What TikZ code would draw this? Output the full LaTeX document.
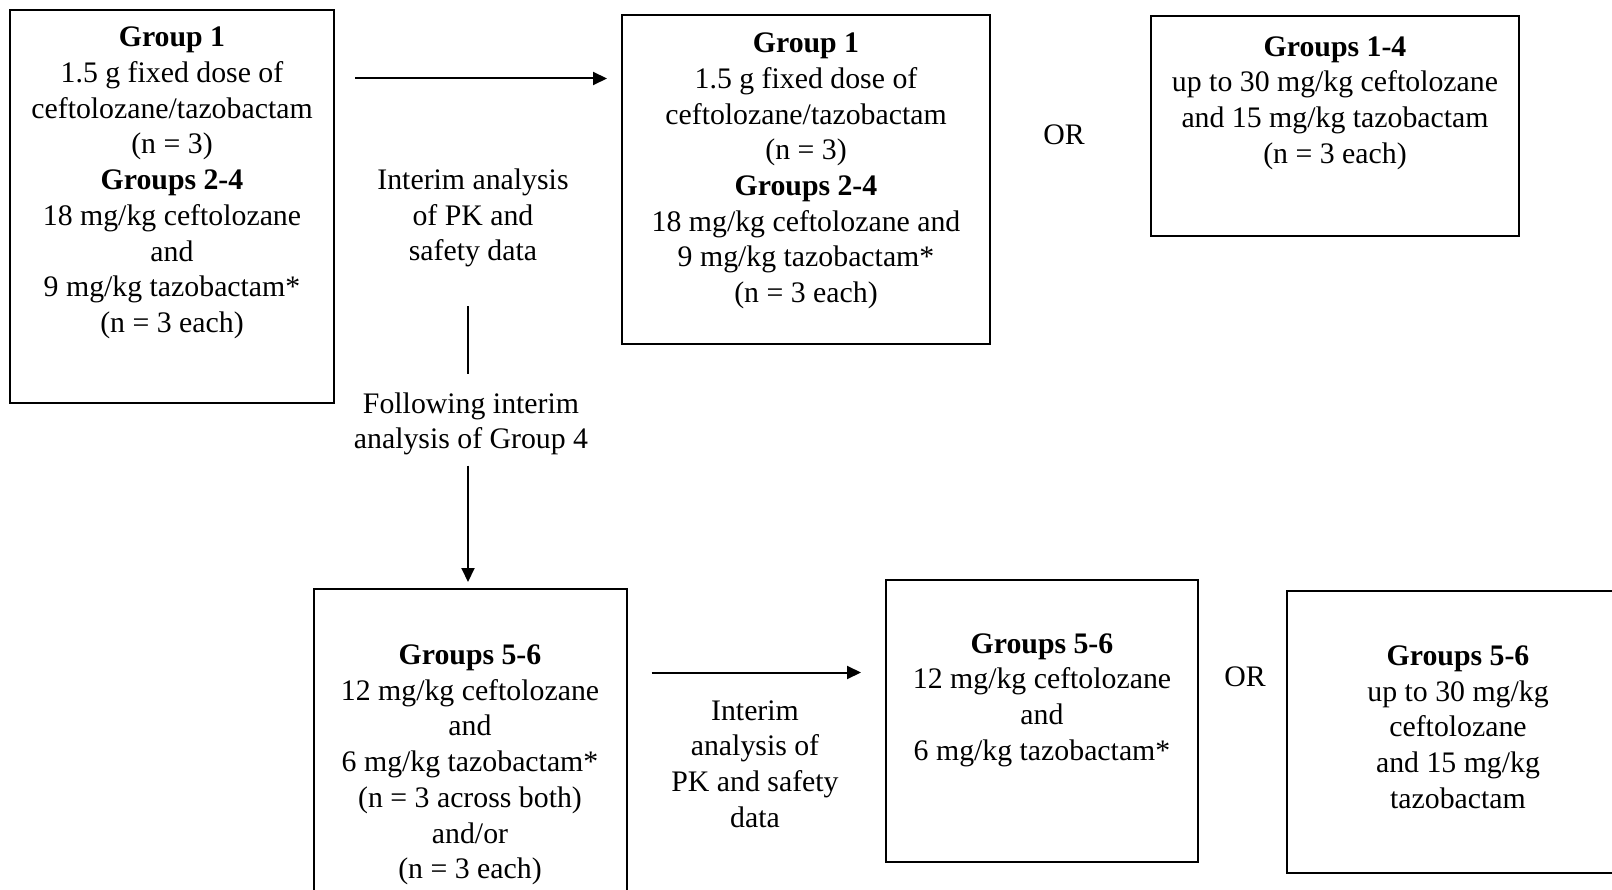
\documentclass[tikz,border=0pt]{standalone}
\usepackage{fontspec}
\setmainfont{Liberation Serif}
\usetikzlibrary{arrows.meta,positioning}

\begin{document}
\begin{tikzpicture}[
    x=1pt, y=-1pt,
    font=\fontsize{29.8}{35.7}\selectfont,
    dosebox/.style={rectangle, draw, line width=2pt, inner sep=0pt},
    dosetext/.style={align=center, inner sep=0pt},
    note/.style={align=center, inner sep=0pt},
    flow/.style={-{Triangle[length=14pt, width=13pt]}, line width=2pt},
    link/.style={line width=1.8pt}
]
    \useasboundingbox (0,0) rectangle (1612,890);
    \clip (0,0) rectangle (1612,890);

    \node[dosebox, minimum width=324pt, minimum height=393pt] (start) at (172,206.5) {};
    \node[dosetext] (starttext) at (172,183) {\textbf{Group 1}\\1.5 g fixed dose of\\ceftolozane/tazobactam\\(n = 3)\\\textbf{Groups 2-4}\\18 mg/kg ceftolozane\\and\\9 mg/kg tazobactam*\\(n = 3 each)};

    \node[dosebox, minimum width=368pt, minimum height=329pt] (keep) at (806,180) {};
    \node[dosetext] (keeptext) at (806,171) {\textbf{Group 1}\\1.5 g fixed dose of\\ceftolozane/tazobactam\\(n = 3)\\\textbf{Groups 2-4}\\18 mg/kg ceftolozane and\\9 mg/kg tazobactam*\\(n = 3 each)};

    \node[note] (ortop) at (1064,135) {OR};

    \node[dosebox, minimum width=368pt, minimum height=220pt] (raise) at (1335,126.5) {};
    \node[dosetext] (raisetext) at (1335,103) {\textbf{Groups 1-4}\\up to 30 mg/kg ceftolozane\\and 15 mg/kg tazobactam\\(n = 3 each)};

    \node[note] (pktop) at (473,218) {Interim analysis\\of PK and\\safety data};
    \node[note] (follow) at (471,424) {Following interim\\analysis of Group 4};

    \node[dosebox, minimum width=313pt, minimum height=344pt] (young) at (470,761) {};
    \node[dosetext] (youngtext) at (470,765) {\textbf{Groups 5-6}\\12 mg/kg ceftolozane\\and\\6 mg/kg tazobactam*\\(n = 3 across both)\\and/or\\(n = 3 each)};

    \node[note] (pklow) at (755,764) {Interim\\analysis of\\PK and safety\\data};

    \node[dosebox, minimum width=312pt, minimum height=282pt] (youngkeep) at (1042,721) {};
    \node[dosetext] (youngkeeptext) at (1042,700) {\textbf{Groups 5-6}\\12 mg/kg ceftolozane\\and\\6 mg/kg tazobactam*};

    \node[note] (orlow) at (1245,677) {OR};

    \node[dosebox, minimum width=343pt, minimum height=282pt] (youngraise) at (1458.5,732) {};
    \node[dosetext] (youngraisetext) at (1458,727) {\textbf{Groups 5-6}\\up to 30 mg/kg\\ceftolozane\\and 15 mg/kg\\tazobactam};

    \coordinate (topflow) at (0,78.5);
    \coordinate (sideline) at (468,0);
    \coordinate (lowflow) at (0,672.5);

    \draw[flow, shorten <=20pt, shorten >=14pt] (start.east |- topflow) -- (keep.west |- topflow);
    \draw[link, shorten <=39pt, shorten >=18pt] (pktop.south -| sideline) -- (follow.north -| sideline);
    \draw[flow, shorten <=10pt, shorten >=6pt] (follow.south -| sideline) -- (young.north -| sideline);
    \draw[flow, shorten <=24pt, shorten >=24pt] (young.east |- lowflow) -- (youngkeep.west |- lowflow);
\end{tikzpicture}
\end{document}
